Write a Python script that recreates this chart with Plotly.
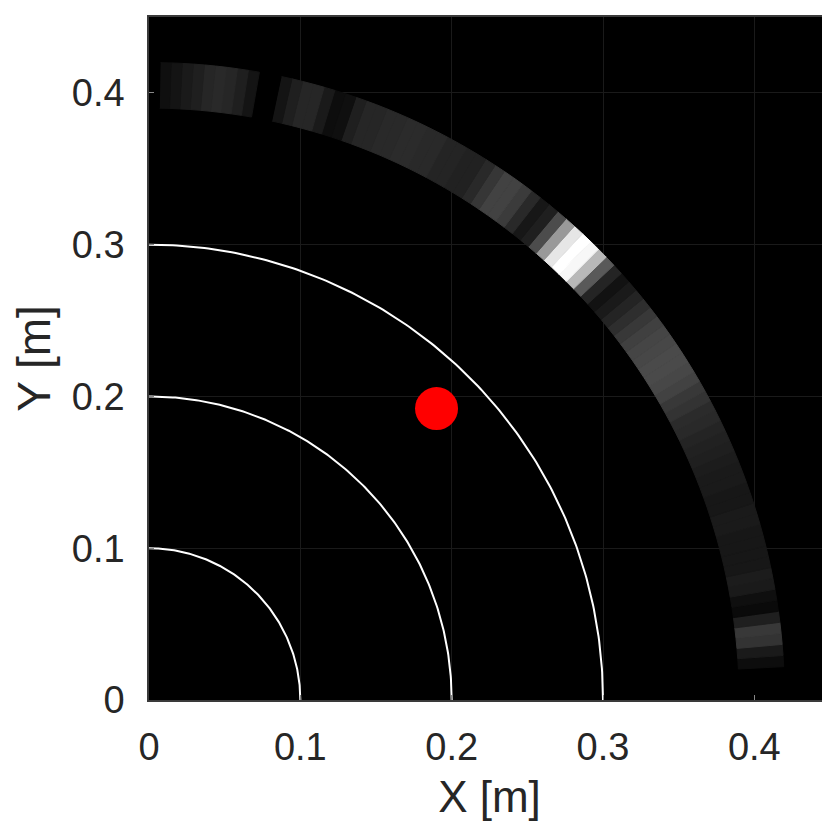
import numpy as np
import plotly.graph_objects as go

# ---- data ----
# angular sectors of the ring (degrees, lower edge of each 1-degree sector)
sector_start_deg = list(range(0, 90))
sector_width_deg = 1.0
# normalised grey-level intensity of each sector (0 = black, 1 = white)
intensity = [
    0, 0, 0, 0.05, 0.10, 0.20, 0.22, 0.12, 0.04, 0.06,      # 0-9
    0.10, 0.11, 0.09, 0.09, 0.09, 0.09, 0.10, 0.10, 0.09, 0.09,  # 10-19
    0.10, 0.10, 0.11, 0.12, 0.13, 0.14, 0.16, 0.17, 0.20, 0.22,  # 20-29
    0.26, 0.28, 0.29, 0.29, 0.28, 0.27, 0.25, 0.22, 0.18, 0.14,  # 30-39
    0.10, 0.07, 0.14, 0.35, 0.72, 0.97, 1.00, 0.90, 0.60, 0.30,  # 40-49
    0.12, 0.09, 0.16, 0.23, 0.26, 0.26, 0.21, 0.16, 0.13, 0.13,  # 50-59
    0.14, 0.14, 0.16, 0.16, 0.17, 0.17, 0.16, 0.16, 0.15, 0.15,  # 60-69
    0.12, 0.06, 0.05, 0.10, 0.15, 0.15, 0.12, 0.08, 0, 0,        # 70-79
    0.08, 0.12, 0.15, 0.16, 0.15, 0.12, 0.10, 0.08, 0.06, 0,     # 80-89
]
ring_inner_r = 0.39
ring_outer_r = 0.42

circle_radii = [0.1, 0.2, 0.3]

source_x = [0.19]
source_y = [0.192]

tick_vals = [0, 0.1, 0.2, 0.3, 0.4]
tick_text = ["0", "0.1", "0.2", "0.3", "0.4"]
axis_range = [0, 0.45]

# ---- figure ----
fig = go.Figure()

for a0, val in zip(sector_start_deg, intensity):
    a1 = a0 + sector_width_deg
    th = np.radians(np.linspace(a0, a1, 6))
    xs = np.concatenate([ring_outer_r * np.cos(th), ring_inner_r * np.cos(th[::-1])])
    ys = np.concatenate([ring_outer_r * np.sin(th), ring_inner_r * np.sin(th[::-1])])
    g = int(round(255 * val))
    col = f"rgb({g},{g},{g})"
    fig.add_trace(go.Scatter(
        x=list(xs) + [xs[0]], y=list(ys) + [ys[0]],
        mode="lines", fill="toself", fillcolor=col,
        line=dict(color=col, width=1),
        hoverinfo="skip", showlegend=False,
    ))

th_full = np.radians(np.linspace(0, 90, 181))
for r in circle_radii:
    fig.add_trace(go.Scatter(
        x=r * np.cos(th_full), y=r * np.sin(th_full),
        mode="lines", line=dict(color="white", width=2),
        hoverinfo="skip", showlegend=False,
    ))

fig.add_trace(go.Scatter(
    x=source_x, y=source_y, mode="markers",
    marker=dict(color="#ff0000", size=43, line=dict(width=0)),
    showlegend=False,
))

font_family = "Liberation Sans, Arial, sans-serif"
axis_common = dict(
    range=axis_range,
    tickvals=tick_vals,
    ticktext=tick_text,
    showgrid=True,
    gridcolor="#1a1a1a",
    gridwidth=1,
    zeroline=False,
    showline=True,
    linecolor="#3a3a3a",
    linewidth=1.5,
    mirror=True,
    ticks="inside",
    ticklen=5,
    tickcolor="#888888",
    tickfont=dict(family=font_family, size=38, color="#262626"),
)

fig.update_layout(
    width=830, height=830,
    margin=dict(l=141, r=6, t=9, b=138),
    paper_bgcolor="white",
    plot_bgcolor="black",
    showlegend=False,
    xaxis=dict(**axis_common,
               title=dict(text="X [m]", standoff=14,
                          font=dict(family=font_family, size=44, color="#262626")),
               ticklabelstandoff=13),
    yaxis=dict(**axis_common,
               title=dict(text="Y [m]", standoff=12,
                          font=dict(family=font_family, size=46, color="#262626")),
               ticklabelstandoff=15),
)

fig.write_html("out.html")
